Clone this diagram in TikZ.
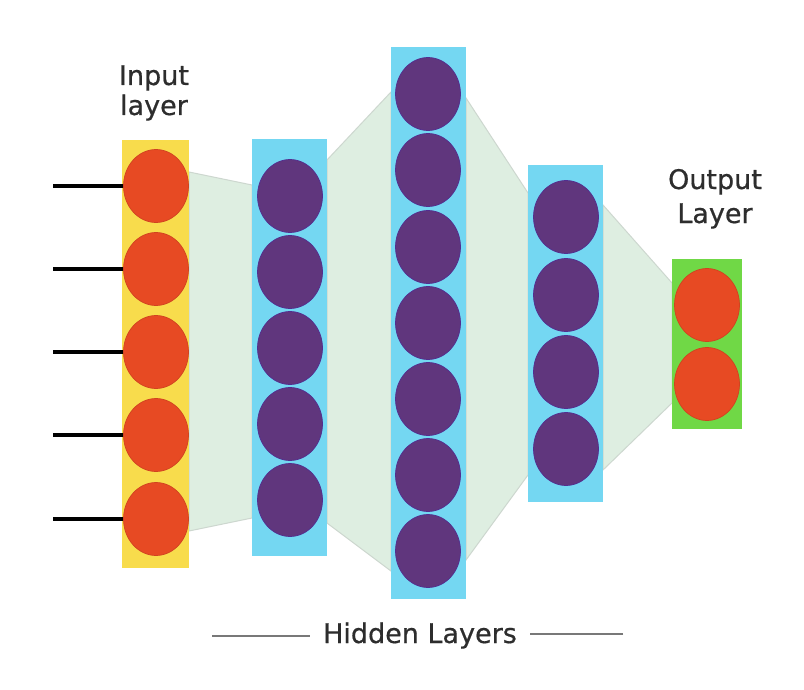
\documentclass[tikz,border=0pt]{standalone}
\usepackage{fontspec}
\setmainfont{DejaVu Sans}
\newfontfamily\labelfont[FakeBold=0.6]{DejaVu Sans}
\usetikzlibrary{shapes.geometric}

\definecolor{inYellow}{RGB}{248,220,76}
\definecolor{nodeRed}{RGB}{231,74,35}
\definecolor{nodePurple}{RGB}{96,54,125}
\definecolor{hidBlue}{RGB}{116,215,242}
\definecolor{outGreen}{RGB}{112,216,70}
\definecolor{funnel}{RGB}{222,238,225}
\definecolor{funnelEdge}{RGB}{205,215,207}
\definecolor{labelGray}{RGB}{45,45,45}
\definecolor{ruleGray}{RGB}{120,120,120}

\tikzset{
  layerbox/.style={rectangle, draw=none, inner sep=0pt},
  neuron/.style={ellipse, inner sep=0pt, minimum width=65pt, minimum height=73pt, line width=0.7pt},
  redneuron/.style={neuron, fill=nodeRed, draw=nodeRed!90!black},
  purpleneuron/.style={neuron, fill=nodePurple, draw=nodePurple!85!blue},
  funnelshape/.style={fill=funnel, draw=funnelEdge, line width=1pt},
  inputline/.style={line width=4pt, black},
  caption/.style={text=labelGray, font=\labelfont\fontsize{27}{30}\selectfont, align=center},
  rule/.style={ruleGray, line width=1.3pt}
}

\begin{document}
\begin{tikzpicture}[x=1pt, y=-1pt]
\useasboundingbox (0,0) rectangle (804,690);
\fill[white] (0,0) rectangle (804,690);

% funnels between consecutive layers
\draw[funnelshape] (189,172) -- (252,185) -- (252,518) -- (189,531) -- cycle;
\draw[funnelshape] (327,160) -- (391,92) -- (391,571) -- (327,523) -- cycle;
\draw[funnelshape] (466,98) -- (528,193) -- (528,475) -- (466,560) -- cycle;
\draw[funnelshape] (603,205) -- (672,283) -- (672,403) -- (603,470) -- cycle;

% layer backgrounds
\node[layerbox, fill=inYellow, minimum width=67pt, minimum height=428pt] (inbox) at (155.5,354) {};
\node[layerbox, fill=hidBlue, minimum width=75pt, minimum height=417pt] (hbox1) at (289.5,347.5) {};
\node[layerbox, fill=hidBlue, minimum width=75pt, minimum height=552pt] (hbox2) at (428.5,323) {};
\node[layerbox, fill=hidBlue, minimum width=75pt, minimum height=337pt] (hbox3) at (565.5,333.5) {};
\node[layerbox, fill=outGreen, minimum width=70pt, minimum height=170pt] (outbox) at (707,344) {};

% input neurons and their incoming lines
\foreach \i/\y in {1/186,2/269,3/352,4/435,5/519}{
  \node[redneuron] (in\i) at (156,\y) {};
  \coordinate (src\i) at (53,\y);
  \draw[inputline] (src\i) -- (in\i.west);
}

% hidden layer 1
\foreach \i/\y in {1/196,2/272,3/348,4/424,5/500}
  \node[purpleneuron] (ha\i) at (290,\y) {};

% hidden layer 2
\foreach \i/\y in {1/94,2/170,3/247,4/323,5/399,6/475,7/551}
  \node[purpleneuron] (hb\i) at (428,\y) {};

% hidden layer 3
\foreach \i/\y in {1/217,2/295,3/372,4/449}
  \node[purpleneuron] (hc\i) at (566,\y) {};

% output neurons
\node[redneuron] (out1) at (707,305) {};
\node[redneuron] (out2) at (707,384) {};

% labels (base anchor sits on the last line)
\node[caption, anchor=base] (inlabel) at (154,115) {Input\\layer};
\node[caption, anchor=base, font=\labelfont\fontsize{27}{34}\selectfont] (outlabel) at (715,223) {Output\\Layer};
\node[caption, anchor=base, inner xsep=13pt] (hidlabel) at (420,643) {Hidden Layers};
\coordinate (ruleL) at (212,636);
\coordinate (ruleR) at (623,634);
\draw[rule] (ruleL) -- (ruleL -| hidlabel.west);
\draw[rule] (ruleR) -- (ruleR -| hidlabel.east);
\end{tikzpicture}
\end{document}
